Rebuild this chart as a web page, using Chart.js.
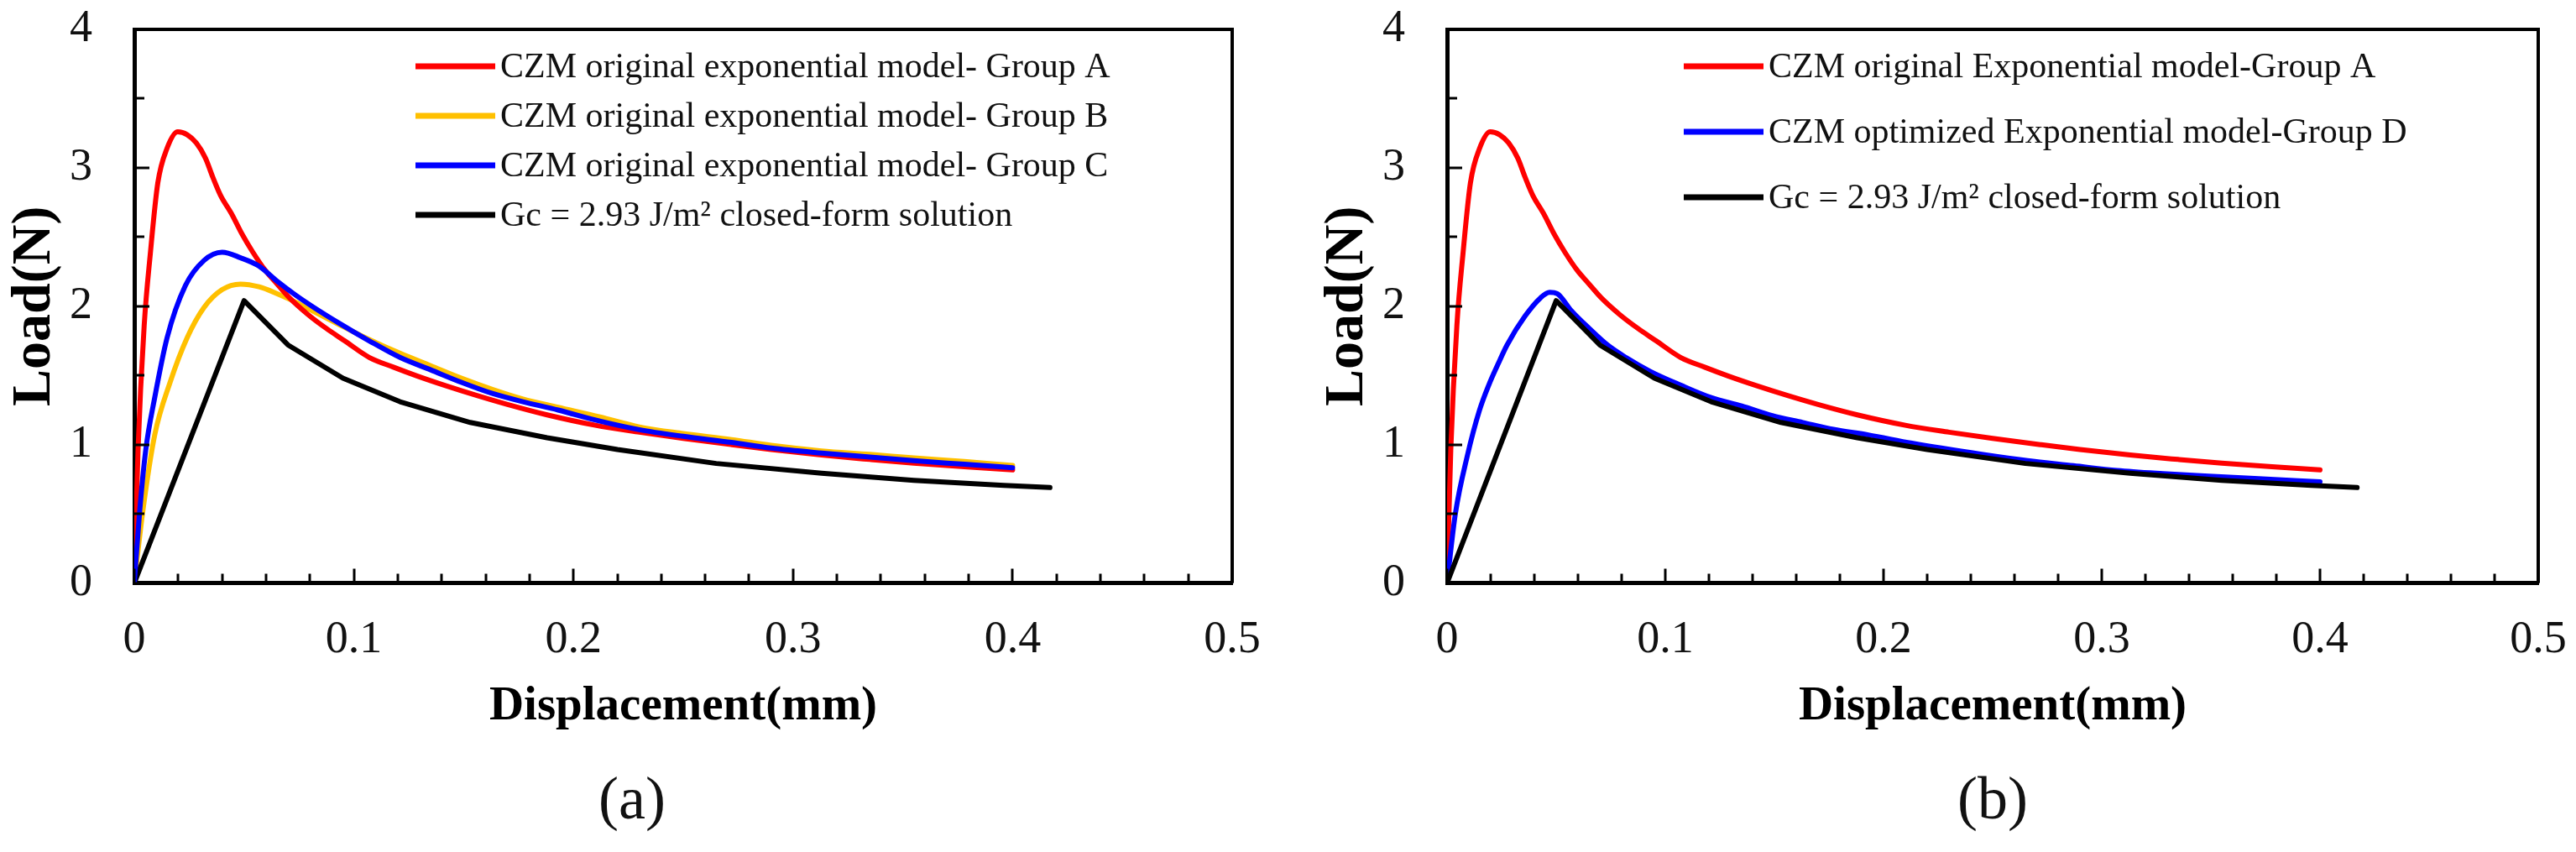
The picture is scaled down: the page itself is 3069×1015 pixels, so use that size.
<!DOCTYPE html>
<html>
<head>
<meta charset="utf-8">
<script src="https://cdn.jsdelivr.net/npm/chart.js@4.4.1/dist/chart.umd.min.js"></script>
<style>
  html, body { margin: 0; padding: 0; background: #fff; overflow: hidden; }
  body { width: 3069px; height: 1015px; position: relative; }
  canvas { position: absolute; top: 0; }
  #panelA { left: 0; }
  #panelB { left: 1564px; }
</style>
</head>
<body>
<canvas id="panelA" width="1506" height="1015"></canvas>
<canvas id="panelB" width="1505" height="1015"></canvas>
<script>
// Load-displacement curves (x in mm, y in N)
const groupA_x = [0, 0.0017, 0.0045, 0.0073, 0.0107, 0.0149, 0.0198, 0.024, 0.0282, 0.0324, 0.0358, 0.0393, 0.0442, 0.0491, 0.054, 0.0596, 0.0651, 0.0707, 0.0791, 0.0874, 0.0958, 0.107, 0.118, 0.129, 0.142, 0.156, 0.170, 0.188, 0.21, 0.23, 0.25, 0.272, 0.29, 0.313, 0.335, 0.355, 0.378, 0.4];
const groupA_y = [0, 0.96, 1.86, 2.38, 2.89, 3.14, 3.26, 3.24, 3.18, 3.07, 2.93, 2.80, 2.67, 2.52, 2.39, 2.26, 2.16, 2.06, 1.94, 1.84, 1.75, 1.63, 1.56, 1.495, 1.425, 1.355, 1.29, 1.215, 1.14, 1.09, 1.045, 1.0, 0.965, 0.925, 0.893, 0.866, 0.84, 0.818];

const groupB_x = [0, 0.0038, 0.0093, 0.0163, 0.024, 0.0317, 0.040, 0.0484, 0.0568, 0.0651, 0.0735, 0.0819, 0.093, 0.107, 0.121, 0.135, 0.149, 0.163, 0.177, 0.193, 0.212, 0.23, 0.25, 0.272, 0.29, 0.313, 0.335, 0.355, 0.378, 0.4];
const groupB_y = [0, 0.51, 1.07, 1.45, 1.77, 1.99, 2.12, 2.16, 2.14, 2.09, 2.03, 1.96, 1.87, 1.76, 1.66, 1.57, 1.48, 1.40, 1.33, 1.27, 1.20, 1.128, 1.08, 1.037, 0.995, 0.955, 0.93, 0.904, 0.878, 0.85];

const groupC_x = [0, 0.0024, 0.0052, 0.0093, 0.0149, 0.0233, 0.0317, 0.040, 0.0484, 0.0568, 0.0651, 0.0735, 0.0819, 0.093, 0.107, 0.121, 0.135, 0.149, 0.163, 0.177, 0.193, 0.212, 0.23, 0.25, 0.272, 0.29, 0.313, 0.335, 0.355, 0.378, 0.4];
const groupC_y = [0, 0.51, 0.96, 1.34, 1.77, 2.15, 2.33, 2.39, 2.35, 2.29, 2.18, 2.08, 1.99, 1.88, 1.75, 1.63, 1.54, 1.45, 1.37, 1.31, 1.25, 1.17, 1.108, 1.06, 1.016, 0.975, 0.939, 0.91, 0.884, 0.858, 0.833];

const groupD_x = [0, 0.0038, 0.0093, 0.0149, 0.0191, 0.0233, 0.0275, 0.0358, 0.0428, 0.047, 0.0505, 0.0568, 0.0651, 0.0735, 0.0819, 0.093, 0.107, 0.121, 0.135, 0.149, 0.163, 0.177, 0.193, 0.213, 0.245, 0.266, 0.287, 0.307, 0.328, 0.349, 0.37, 0.4];
const groupD_y = [0, 0.50, 0.92, 1.25, 1.43, 1.58, 1.72, 1.93, 2.06, 2.10, 2.09, 1.97, 1.84, 1.72, 1.63, 1.53, 1.43, 1.34, 1.28, 1.21, 1.16, 1.11, 1.07, 1.01, 0.93, 0.884, 0.848, 0.813, 0.79, 0.772, 0.755, 0.732];

const closed_x = [0, 0.05, 0.07, 0.095, 0.121, 0.153, 0.188, 0.22, 0.265, 0.313, 0.355, 0.396, 0.417];
const closed_y = [0, 2.04, 1.72, 1.48, 1.31, 1.16, 1.05, 0.965, 0.864, 0.793, 0.742, 0.705, 0.69];

const xTicksMajor = 0.1;
const yTicksMajor = 1;

const FONT = "'Liberation Serif', 'Times New Roman', serif";

function points(xs, ys) {
  return xs.map((x, i) => ({ x, y: ys[i] }));
}

function isMajor(v, step) {
  return Math.abs(v / step - Math.round(v / step)) < 1e-6;
}

function line(label, xs, ys, color, order, smooth) {
  return {
    label,
    data: points(xs, ys),
    borderColor: color,
    borderWidth: 6,
    pointRadius: 0,
    fill: false,
    tension: 0,
    cubicInterpolationMode: smooth ? 'monotone' : 'default',
    borderCapStyle: 'round',
    borderJoinStyle: 'round',
    order
  };
}

// inward tick marks plus the top/right frame
const frameTicks = {
  id: 'frameTicks',
  afterDraw(chart) {
    const { ctx, chartArea: a, scales: { x, y } } = chart;
    ctx.save();
    ctx.strokeStyle = '#000';
    ctx.lineWidth = 3;
    ctx.beginPath();
    x.ticks.forEach(t => {
      const px = Math.round(x.getPixelForValue(t.value));
      const len = isMajor(t.value, xTicksMajor) ? 17 : 11;
      ctx.moveTo(px, a.bottom);
      ctx.lineTo(px, a.bottom - len);
    });
    y.ticks.forEach(t => {
      const py = Math.round(y.getPixelForValue(t.value));
      const len = isMajor(t.value, yTicksMajor) ? 18 : 12;
      ctx.moveTo(a.left, py);
      ctx.lineTo(a.left + len, py);
    });
    ctx.stroke();
    ctx.lineWidth = 4;
    ctx.beginPath();
    ctx.moveTo(a.left, a.top);
    ctx.lineTo(a.right, a.top);
    ctx.lineTo(a.right, a.bottom);
    ctx.stroke();
    ctx.restore();
  }
};

// legend drawn inside the plot area
const insideLegend = {
  id: 'insideLegend',
  afterDraw(chart, args, opts) {
    const { ctx, chartArea: a } = chart;
    ctx.save();
    ctx.font = '42px ' + FONT;
    ctx.textBaseline = 'middle';
    ctx.fillStyle = '#111';
    chart.data.datasets.forEach((ds, i) => {
      const yy = a.top + opts.top + i * opts.gap;
      const x0 = a.left + opts.left;
      ctx.strokeStyle = ds.borderColor;
      ctx.lineWidth = 7;
      ctx.beginPath();
      ctx.moveTo(x0, yy);
      ctx.lineTo(x0 + opts.lineLen, yy);
      ctx.stroke();
      ctx.fillText(ds.label, x0 + opts.lineLen + 6, yy + 2);
    });
    ctx.restore();
  }
};

// padLeft shifts the full-width caption; the y axis width keeps the plot left edge at 160
function makeChart(id, datasets, caption, captionFull, padLeft, padRight, legendOpts) {
  return new Chart(document.getElementById(id), {
    type: 'line',
    data: { datasets },
    options: {
      responsive: false,
      animation: false,
      devicePixelRatio: 1,
      layout: { padding: { top: 35, bottom: 16, left: padLeft, right: padRight } },
      scales: {
        x: {
          type: 'linear',
          min: 0,
          max: 0.5,
          grid: { display: false, drawTicks: false },
          border: { display: true, color: '#000', width: 5 },
          ticks: {
            stepSize: 0.02,
            autoSkip: false,
            maxRotation: 0,
            padding: 36,
            color: '#111',
            font: { family: FONT, size: 54 },
            callback: v => isMajor(v, xTicksMajor) ? String(Math.round(v * 10) / 10) : ''
          },
          title: {
            display: true,
            text: 'Displacement(mm)',
            color: '#000',
            font: { family: FONT, size: 57, weight: 'bold' },
            padding: { top: 0, bottom: 36 }
          },
          afterFit: s => {
            s.height = 218;
            s.paddingLeft = 0;
            s.paddingRight = 0;
          }
        },
        y: {
          min: 0,
          max: 4,
          grid: { display: false, drawTicks: false },
          border: { display: true, color: '#000', width: 5 },
          ticks: {
            stepSize: 0.5,
            autoSkip: false,
            padding: 50,
            color: '#111',
            font: { family: FONT, size: 54 },
            callback: v => isMajor(v, yTicksMajor) ? String(Math.round(v)) : ''
          },
          title: {
            display: true,
            text: 'Load(N)',
            color: '#000',
            font: { family: FONT, size: 66, weight: 'bold' },
            padding: { top: 2 - padLeft, bottom: 0 }
          },
          afterFit: s => {
            s.width = 160 - padLeft;
            s.paddingTop = 0;
            s.paddingBottom = 0;
          }
        }
      },
      plugins: {
        legend: { display: false },
        tooltip: { enabled: false },
        title: {
          display: true,
          text: caption,
          position: 'bottom',
          fullSize: captionFull,
          color: '#111',
          font: { family: FONT, size: 72, weight: 'normal' },
          padding: 0
        },
        insideLegend: legendOpts
      }
    },
    plugins: [frameTicks, insideLegend]
  });
}

makeChart('panelA', [
  line('CZM original exponential model- Group A', groupA_x, groupA_y, '#ff0000', 2, true),
  line('CZM original exponential model- Group B', groupB_x, groupB_y, '#ffc000', 3, true),
  line('CZM original exponential model- Group C', groupC_x, groupC_y, '#0000ff', 0, true),
  line('Gc = 2.93 J/m\u00b2 closed-form solution', closed_x, closed_y, '#000000', 1, false)
], '(a)', true, 38, 38, { left: 335, top: 44, gap: 59, lineLen: 95 });

makeChart('panelB', [
  line('CZM original Exponential model-Group A', groupA_x, groupA_y, '#ff0000', 2, true),
  line('CZM optimized Exponential model-Group D', groupD_x, groupD_y, '#0000ff', 1, true),
  line('Gc = 2.93 J/m\u00b2 closed-form solution', closed_x, closed_y, '#000000', 0, false)
], '(b)', false, 0, 45, { left: 282, top: 44, gap: 78, lineLen: 95 });
</script>
</body>
</html>
